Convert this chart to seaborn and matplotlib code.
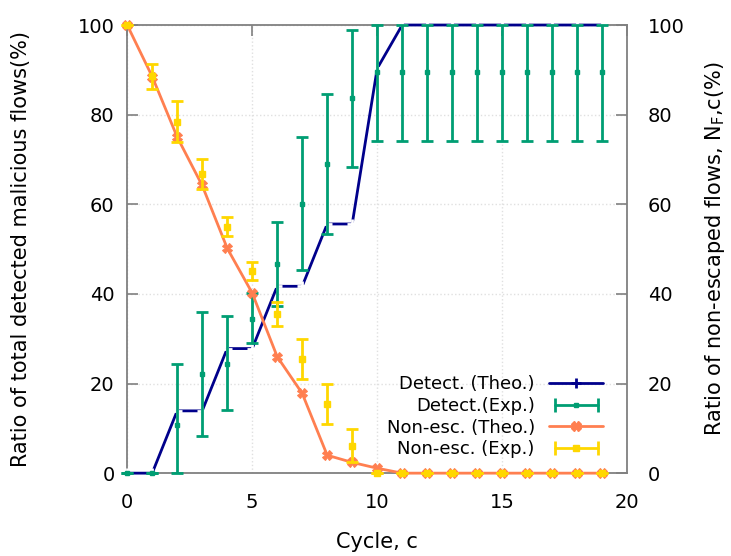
import numpy as np
import pandas as pd
import seaborn as sns
from matplotlib import pyplot as plt
from matplotlib.lines import Line2D
from matplotlib.legend_handler import HandlerLine2D, HandlerTuple

# values
cycles = list(range(20))
detect_theo = [0, 0, 13.9, 13.9, 27.8, 27.8, 41.7, 41.7, 55.6, 55.6, 90.3] + [100] * 9
detect_exp = [0, 0, 10.7, 22.1, 24.4, 34.4, 46.7, 60.0, 69.0, 83.7] + [89.5] * 10
detect_lo = [0, 0, 0, 8.3, 14.0, 29.0, 37.3, 45.3, 53.3, 68.3] + [74.1] * 10
detect_hi = [0, 0, 24.3, 36.0, 35.0, 40.2, 56.0, 75.0, 84.5, 99.0] + [100] * 10
nonesc_theo = [100, 88.5, 75.0, 64.2, 50.2, 40.2, 26.0, 17.8, 4.0, 2.4, 1.1] + [0] * 9
nonesc_exp = [100, 88.6, 78.4, 66.7, 55.0, 45.0, 35.5, 25.4, 15.4, 6.0] + [0] * 10
nonesc_lo = [100, 85.7, 74.0, 63.4, 52.9, 43.1, 32.8, 21.0, 10.9, 2.4] + [0] * 10
nonesc_hi = [100, 91.2, 83.0, 70.0, 57.1, 47.1, 38.2, 29.9, 19.9, 9.8] + [0] * 10

df = pd.DataFrame({"cycle": cycles,
                   "detect_theo": detect_theo, "detect_exp": detect_exp,
                   "detect_lo": detect_lo, "detect_hi": detect_hi,
                   "nonesc_theo": nonesc_theo, "nonesc_exp": nonesc_exp,
                   "nonesc_lo": nonesc_lo, "nonesc_hi": nonesc_hi})

c_navy = "#00008b"
c_green = "#009e73"
c_coral = "#ff7f50"
c_gold = "#ffd700"
frame = "#808080"

sns.set_theme(style="white")
plt.rcParams['font.family'] = ['DejaVu Sans']
plt.rcParams['font.size'] = 13
plt.rcParams['text.color'] = 'black'
plt.rcParams['axes.labelcolor'] = 'black'
plt.rcParams['xtick.color'] = 'black'
plt.rcParams['ytick.color'] = 'black'

fig = plt.figure(figsize=(7.31, 5.56), dpi=100)
ax = fig.add_axes([0.174, 0.149, 0.684, 0.806])

sns.lineplot(data=df, x="cycle", y="detect_theo", color=c_navy, lw=2,
             marker="+", markersize=7, mew=2, ax=ax, clip_on=False, zorder=3)
ax.errorbar(df["cycle"], df["detect_exp"],
            yerr=[df["detect_exp"] - df["detect_lo"], df["detect_hi"] - df["detect_exp"]],
            fmt="s", ms=3.5, color=c_green, ecolor=c_green, elinewidth=2,
            capsize=4.5, capthick=2, clip_on=False, zorder=4)
sns.lineplot(data=df, x="cycle", y="nonesc_theo", color=c_coral, lw=2,
             marker="X", markersize=6.5, mec=c_coral, ax=ax, clip_on=False, zorder=5)
ax.errorbar(df["cycle"], df["nonesc_exp"],
            yerr=[df["nonesc_exp"] - df["nonesc_lo"], df["nonesc_hi"] - df["nonesc_exp"]],
            fmt="s", ms=5, color=c_gold, ecolor=c_gold, elinewidth=2,
            capsize=4.5, capthick=2, clip_on=False, zorder=6)

ax.set_xlim(0, 20)
ax.set_ylim(0, 100)
ax.set_xticks([0, 5, 10, 15, 20])
ax.set_yticks([0, 20, 40, 60, 80, 100])
ax.set_xlabel("Cycle, c", fontsize=15, labelpad=15)
ax.set_ylabel("Ratio of total detected malicious flows(%)", fontsize=15, labelpad=34)
ax.grid(True, color="#e0e0e0", linestyle=":", linewidth=1)
ax.tick_params(direction="in", length=8, width=1.2, color=frame, top=True,
               right=False, labelsize=14)
ax.tick_params(axis="x", pad=14)
ax.tick_params(axis="y", pad=9)
for s in ax.spines.values():
    s.set_color(frame)
    s.set_linewidth(1.3)

ax2 = ax.twinx()
ax2.set_ylim(0, 100)
ax2.set_yticks([0, 20, 40, 60, 80, 100])
ax2.set_ylabel("Ratio of non-escaped flows, N$_{\\mathrm{F}}$,c(%)", fontsize=15, labelpad=13)
ax2.tick_params(direction="in", length=8, width=1.2, color=frame, labelsize=14, pad=15)
for s in ax2.spines.values():
    s.set_visible(False)

# legend handles in gnuplot style
h1 = Line2D([], [], color=c_navy, lw=2, marker="+", ms=7, mew=2)
cap_g = Line2D([], [], color=c_green, lw=2, marker="|", ms=10, mew=2)
dot_g = Line2D([], [], color=c_green, lw=0, marker="s", ms=3.5)
h3 = Line2D([], [], color=c_coral, lw=2, marker="X", ms=6.5)
cap_y = Line2D([], [], color=c_gold, lw=2, marker="|", ms=10, mew=2)
dot_y = Line2D([], [], color=c_gold, lw=0, marker="s", ms=5)
hmap = {cap_g: HandlerLine2D(numpoints=2), cap_y: HandlerLine2D(numpoints=2),
        tuple: HandlerTuple(ndivide=1)}
ax.legend([h1, (cap_g, dot_g), h3, (cap_y, dot_y)],
          ["Detect. (Theo.)", "Detect.(Exp.)", "Non-esc. (Theo.)", "Non-esc. (Exp.)"],
          handler_map=hmap, loc="lower right", bbox_to_anchor=(0.985, -0.003),
          frameon=False, markerfirst=False, numpoints=1, handlelength=3.0,
          labelspacing=0.2, handletextpad=0.8, fontsize=13)

plt.savefig("out.png", dpi=100)
